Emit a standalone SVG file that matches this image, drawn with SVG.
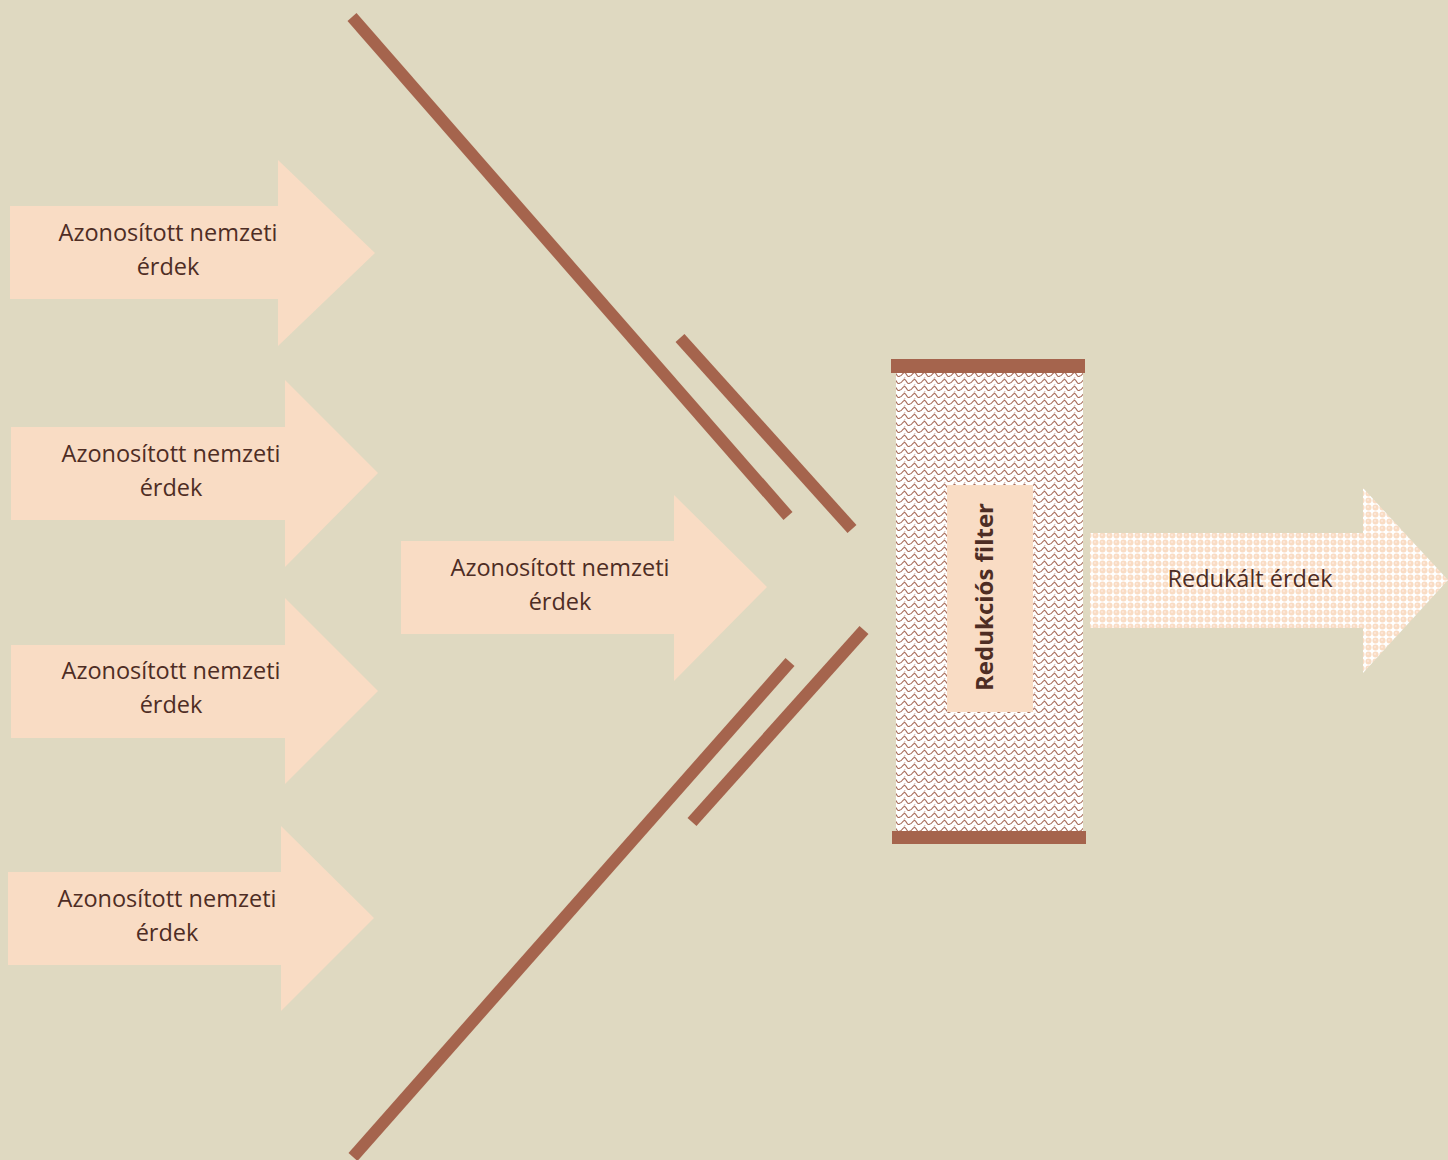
<svg xmlns="http://www.w3.org/2000/svg" width="1448" height="1160" viewBox="0 0 1448 1160">
<style>
.arr{fill:#f9dcc4}
.t{font-family:"Open Sans","Liberation Sans",sans-serif;font-size:23.5px;fill:#4e2d24;text-anchor:middle}
.bar{stroke:#a5644d;stroke-width:12;stroke-linecap:butt}
</style>
<defs>
<pattern id="wave" width="10" height="7" patternUnits="userSpaceOnUse">
<rect width="10" height="7" fill="#ffffff"/>
<path d="M0 5 C2 5 2.5 1.5 4.5 1.5 C6.5 1.5 6.5 5.5 8.5 5.5 C9.3 5.5 9.6 5 10 5" fill="none" stroke="#9a5540" stroke-width="1.1" opacity="0.9"/>
<path d="M4.5 1.5 C4 0.8 4.3 0.3 4.6 0 M4.6 7 C4.8 6.5 5 6.2 5.2 6" fill="none" stroke="#9a5540" stroke-width="0.9" opacity="0.6"/>
</pattern>
<pattern id="dots" width="7" height="7" patternUnits="userSpaceOnUse">
<rect width="7" height="7" fill="#ffffff"/>
<circle cx="3.5" cy="3.5" r="3" fill="#f9dcc4"/>
<circle cx="3" cy="3" r="1" fill="#fde9dc"/>
</pattern>
</defs>
<rect width="1448" height="1160" fill="#dfd9c1"/>

<g id="connectors">
<line class="bar" x1="352" y1="17" x2="788" y2="516"/>
<line class="bar" x1="680" y1="338" x2="852" y2="529"/>
<line class="bar" x1="864" y1="630" x2="692" y2="822"/>
<line class="bar" x1="790" y1="662" x2="353" y2="1157"/>
</g>

<g id="n1">
<path class="arr" d="M10 206 H278 V160 L375 253 L278 346 V299 H10 Z"/>
<text class="t" x="168" y="241">Azonosított nemzeti</text>
<text class="t" x="168" y="275">érdek</text>
</g>
<g id="n2">
<path class="arr" d="M11 427 H285 V380 L378 473 L285 567 V520 H11 Z"/>
<text class="t" x="171" y="462">Azonosított nemzeti</text>
<text class="t" x="171" y="496">érdek</text>
</g>
<g id="n3">
<path class="arr" d="M11 645 H285 V598 L378 691 L285 784 V738 H11 Z"/>
<text class="t" x="171" y="679">Azonosított nemzeti</text>
<text class="t" x="171" y="713">érdek</text>
</g>
<g id="n4">
<path class="arr" d="M8 872 H281 V826 L374 918 L281 1011 V965 H8 Z"/>
<text class="t" x="167" y="907">Azonosított nemzeti</text>
<text class="t" x="167" y="941">érdek</text>
</g>
<g id="n5">
<path class="arr" d="M401 541 H674 V495 L767 587 L674 681 V634 H401 Z"/>
<text class="t" x="560" y="576">Azonosított nemzeti</text>
<text class="t" x="560" y="610">érdek</text>
</g>

<g id="filter">
<rect x="896" y="372" width="187" height="460" fill="url(#wave)"/>
<rect x="891" y="359" width="194" height="14" fill="#a5644d"/>
<rect x="892" y="831" width="194" height="13" fill="#a5644d"/>
<rect x="947" y="485" width="86" height="227" fill="#f9dcc4"/>
<text class="t" transform="translate(993 597) rotate(-90)" style="font-weight:bold;font-size:24px">Redukciós filter</text>
</g>

<g id="out">
<path d="M1090 533 H1363 V488 L1448 580 L1363 673 V628 H1090 Z" fill="url(#dots)"/>
<text class="t" x="1250" y="587">Redukált érdek</text>
</g>
</svg>
